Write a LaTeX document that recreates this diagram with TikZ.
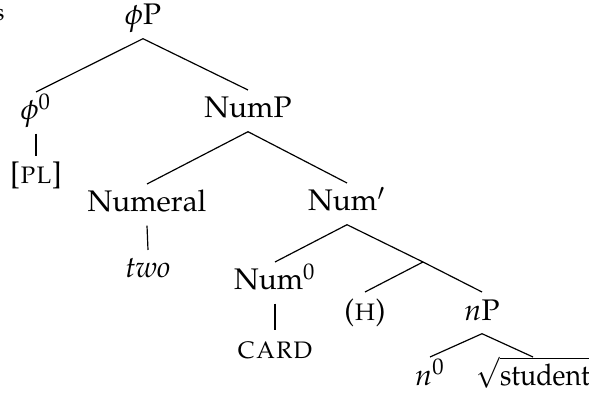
\documentclass[tikz,border=0pt]{standalone}
\usepackage[T1]{fontenc}
\usepackage{mathpazo}
\begin{document}
\begin{tikzpicture}[x=0.3356pt,y=-0.3356pt,
  tnode/.style={anchor=base,inner sep=2.2pt,text height=7pt,text depth=2.2pt},
  branch/.style={line width=0.4pt}]
\useasboundingbox (0,0) rectangle (589,396);
% stray letter at the left edge
\node[anchor=base east,inner sep=0pt,font=\footnotesize] (frag) at (5,21) {s};
% nodes, placed at their baselines
\node[tnode] (phiP) at (143,25) {$\phi$P};
\node[tnode] (phi0) at (36,120) {$\phi^0$};
\node[tnode] (pl) at (36,184) {[\textsc{pl}]};
\node[tnode] (NumP) at (248,118) {NumP};
\node[tnode] (Numeral) at (147,212) {Numeral};
\node[tnode] (two) at (148,278) {\textit{two}};
\node[tnode] (Numbar) at (347,211) {Num$'$};
\node[tnode] (Num0) at (275,290) {Num$^0$};
\node[tnode] (card) at (275,358) {\textsc{card}};
\coordinate (X) at (423,262);
\node[tnode] (H) at (365,320) {(\textsc{h})};
\node[tnode] (nP) at (482,320) {$n$P};
\node[tnode] (n0) at (430,385) {$n^0$};
\node[tnode] (root) at (533,385) {\scalebox{0.9}[1]{$\sqrt{\mbox{student}}$}};
% branches
\draw[branch] (phiP.south) -- (phi0.north);
\draw[branch] (phiP.south) -- (NumP.north);
\draw[branch] (phi0.south) -- (pl.north);
\draw[branch] (NumP.south) -- (Numeral.north);
\draw[branch] (NumP.south) -- (Numbar.north);
\draw[branch] (Numeral.south) -- (two.north);
\draw[branch] (Numbar.south) -- (Num0.north);
\draw[branch] (Numbar.south) -- (X);
\draw[branch] (Num0.south) -- (card.north);
\draw[branch] (X) -- (H.north);
\draw[branch] (X) -- (nP.north);
\draw[branch] (nP.south) -- (n0.north);
\draw[branch] (nP.south) -- (root.north);
\end{tikzpicture}
\end{document}
